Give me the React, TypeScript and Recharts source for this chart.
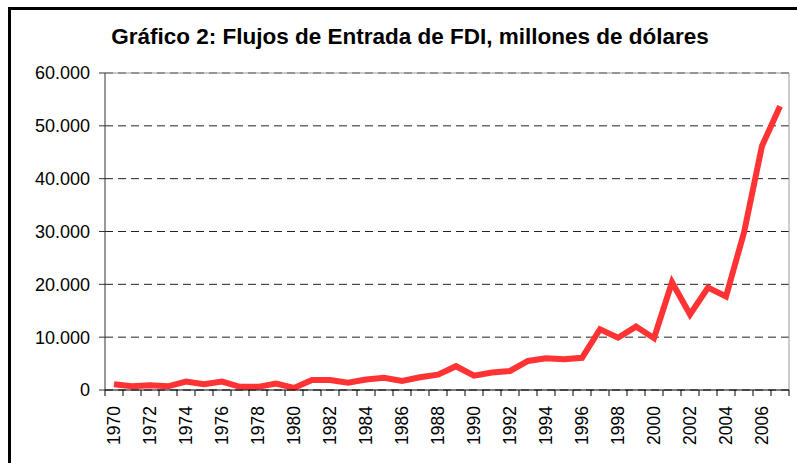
import { LineChart, Line, XAxis, YAxis, CartesianGrid, ReferenceLine } from "recharts";

const years = [
  1970, 1971, 1972, 1973, 1974, 1975, 1976, 1977, 1978, 1979,
  1980, 1981, 1982, 1983, 1984, 1985, 1986, 1987, 1988, 1989,
  1990, 1991, 1992, 1993, 1994, 1995, 1996, 1997, 1998, 1999,
  2000, 2001, 2002, 2003, 2004, 2005, 2006, 2007,
];

// millones de dólares
const fdi = [
  1100, 700, 900, 700, 1600, 1100, 1600, 600, 600, 1200,
  400, 1900, 1900, 1400, 2000, 2300, 1700, 2400, 2900, 4500,
  2700, 3300, 3600, 5500, 6000, 5800, 6100, 11500, 9900, 12000,
  9800, 20400, 14300, 19400, 17700, 29800, 46200, 53700,
];

const yTicks = [0, 10000, 20000, 30000, 40000, 50000, 60000];

const data = years.map((y, i) => ({ year: y, value: fdi[i] }));

const W = 797;
const H = 463;
const PLOT_LEFT = 105;
const PLOT_RIGHT = 789;
const PLOT_TOP = 73;
const PLOT_BOTTOM = 390;
const X_AXIS_H = 60;
const HALF_BAND = (PLOT_RIGHT - PLOT_LEFT) / years.length / 2;

const FONT = "'Liberation Sans', Arial, sans-serif";

const fmt = (v: number) => String(v).replace(/\B(?=(\d{3})+(?!\d))/g, ".");

function YearTick(props: any) {
  const { x, payload, index } = props;
  const year = payload.value as number;
  const isLast = index === years.length - 1;
  const ly = PLOT_BOTTOM + 16;
  return (
    <g>
      <line x1={x - HALF_BAND} y1={PLOT_BOTTOM} x2={x - HALF_BAND} y2={PLOT_BOTTOM + 6} stroke="#000" />
      {isLast && (
        <line x1={x + HALF_BAND} y1={PLOT_BOTTOM} x2={x + HALF_BAND} y2={PLOT_BOTTOM + 6} stroke="#000" />
      )}
      {year % 2 === 0 && (
        <text
          x={x}
          y={ly}
          transform={`rotate(-90, ${x}, ${ly})`}
          textAnchor="end"
          dy="0.36em"
          fontSize={17.5}
          fontFamily={FONT}
          fill="#000"
        >
          {year}
        </text>
      )}
    </g>
  );
}

export default function App() {
  return (
    <div style={{ position: "absolute", left: 0, top: 0, width: W, height: H, background: "#fff" }}>
      <div
        style={{
          position: "absolute",
          left: 8,
          top: 7,
          right: 0,
          bottom: 0,
          borderLeft: "3px solid #000",
          borderTop: "3px solid #000",
        }}
      />
      <div
        style={{
          position: "absolute",
          left: 0,
          top: 24,
          width: 820,
          textAlign: "center",
          fontFamily: FONT,
          fontWeight: "bold",
          fontSize: 22.5,
          color: "#000",
        }}
      >
        Gráfico 2: Flujos de Entrada de FDI, millones de dólares
      </div>
      <LineChart
        width={W}
        height={H}
        data={data}
        margin={{ top: PLOT_TOP, right: W - PLOT_RIGHT, bottom: H - PLOT_BOTTOM - X_AXIS_H, left: 10 }}
        style={{ position: "absolute", left: 0, top: 0 }}
      >
        <CartesianGrid vertical={false} stroke="#222" strokeDasharray="8 5" />
        <CartesianGrid horizontal={false} verticalPoints={[PLOT_RIGHT]} stroke="#999" />
        <ReferenceLine y={60000} stroke="#999" />
        <XAxis
          dataKey="year"
          type="category"
          scale="band"
          interval={0}
          height={X_AXIS_H}
          tickLine={false}
          stroke="#000"
          tick={<YearTick />}
        />
        <YAxis
          width={95}
          domain={[0, 60000]}
          ticks={yTicks}
          tickFormatter={fmt}
          tickSize={6}
          tickMargin={9}
          stroke="#333"
          tick={{ fill: "#000", fontSize: 18, fontFamily: FONT }}
        />
        <Line
          dataKey="value"
          stroke="#FF3333"
          strokeWidth={6}
          dot={false}
          isAnimationActive={false}
          strokeLinejoin="miter"
        />
      </LineChart>
    </div>
  );
}
